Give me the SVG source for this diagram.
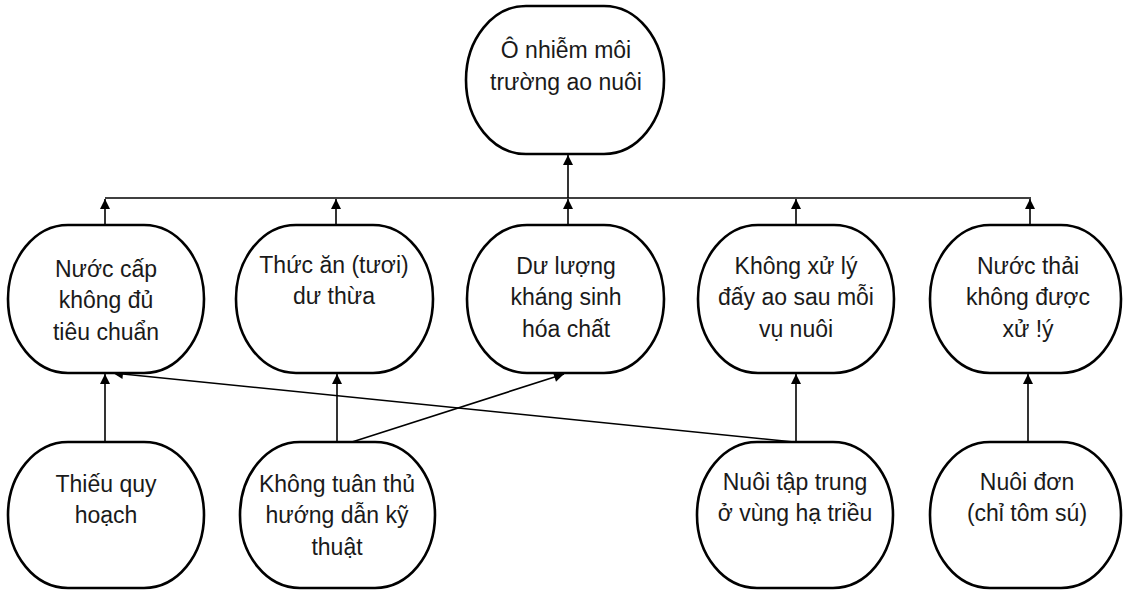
<svg xmlns="http://www.w3.org/2000/svg" width="1127" height="590" viewBox="0 0 1127 590">
<defs>
<marker id="ah" viewBox="0 0 10 10" refX="10" refY="5" markerWidth="11" markerHeight="10" markerUnits="userSpaceOnUse" orient="auto">
<path d="M0,0 L10,5 L0,10 Z" fill="#000"/>
</marker>
<style>
.n{fill:#fff;stroke:#000;stroke-width:2.6}
.t{font-family:"Liberation Sans",Arial,sans-serif;font-size:23px;fill:#1a1a1a;text-anchor:middle}
.c{fill:none;stroke:#000;stroke-width:1.6}
.a{fill:none;stroke:#000;stroke-width:1.6;marker-end:url(#ah)}
</style>
</defs>
<rect width="1127" height="590" fill="#fff"/>
<g id="connectors">
<line class="c" x1="105" y1="198" x2="1031" y2="198"/>
<line class="a" x1="568" y1="198" x2="568" y2="155"/>
<line class="a" x1="105" y1="225" x2="105" y2="199"/>
<line class="a" x1="336" y1="225" x2="336" y2="199"/>
<line class="a" x1="568" y1="225" x2="568" y2="199"/>
<line class="a" x1="796" y1="225" x2="796" y2="199"/>
<line class="a" x1="1030" y1="225" x2="1030" y2="199"/>
<line class="a" x1="105" y1="442" x2="105" y2="374"/>
<line class="a" x1="337" y1="442" x2="337" y2="374"/>
<line class="a" x1="796" y1="442" x2="796" y2="374"/>
<line class="a" x1="1028" y1="442" x2="1028" y2="374"/>
<line class="a" x1="352" y1="442" x2="564" y2="374"/>
<line class="a" x1="794" y1="442" x2="113" y2="373"/>
</g>
<g id="top">
<rect class="n" x="466" y="6" width="198" height="148" rx="60" ry="74"/>
<text class="t" x="566" y="58">Ô nhiễm môi</text>
<text class="t" x="566" y="90">trường ao nuôi</text>
</g>
<g id="m1">
<rect class="n" x="8" y="225" width="196" height="148" rx="60" ry="74"/>
<text class="t" x="106" y="277">Nước cấp</text>
<text class="t" x="106" y="308">không đủ</text>
<text class="t" x="106" y="340">tiêu chuẩn</text>
</g>
<g id="m2">
<rect class="n" x="236" y="225" width="197" height="148" rx="60" ry="74"/>
<text class="t" x="334" y="273">Thức ăn (tươi)</text>
<text class="t" x="334" y="304">dư thừa</text>
</g>
<g id="m3">
<rect class="n" x="467" y="225" width="197" height="148" rx="60" ry="74"/>
<text class="t" x="566" y="274">Dư lượng</text>
<text class="t" x="566" y="305">kháng sinh</text>
<text class="t" x="566" y="337">hóa chất</text>
</g>
<g id="m4">
<rect class="n" x="698" y="225" width="196" height="148" rx="60" ry="74"/>
<text class="t" x="796" y="274">Không xử lý</text>
<text class="t" x="796" y="305">đấy ao sau mỗi</text>
<text class="t" x="796" y="337">vụ nuôi</text>
</g>
<g id="m5">
<rect class="n" x="930" y="225" width="191" height="148" rx="60" ry="74"/>
<text class="t" x="1028" y="274">Nước thải</text>
<text class="t" x="1028" y="305">không được</text>
<text class="t" x="1028" y="337">xử !ý</text>
</g>
<g id="b1">
<rect class="n" x="8" y="442" width="196" height="146" rx="60" ry="73"/>
<text class="t" x="106" y="492">Thiếu quy</text>
<text class="t" x="106" y="523">hoạch</text>
</g>
<g id="b2">
<rect class="n" x="240" y="442" width="195" height="146" rx="60" ry="73"/>
<text class="t" x="337" y="492">Không tuân thủ</text>
<text class="t" x="337" y="523">hướng dẫn kỹ</text>
<text class="t" x="337" y="555">thuật</text>
</g>
<g id="b3">
<rect class="n" x="697" y="442" width="196" height="146" rx="60" ry="73"/>
<text class="t" x="795" y="490">Nuôi tập trung</text>
<text class="t" x="795" y="521">ở vùng hạ triều</text>
</g>
<g id="b4">
<rect class="n" x="930" y="442" width="191" height="146" rx="60" ry="73"/>
<text class="t" x="1027" y="490">Nuôi đơn</text>
<text class="t" x="1027" y="521">(chỉ tôm sú)</text>
</g>
</svg>
